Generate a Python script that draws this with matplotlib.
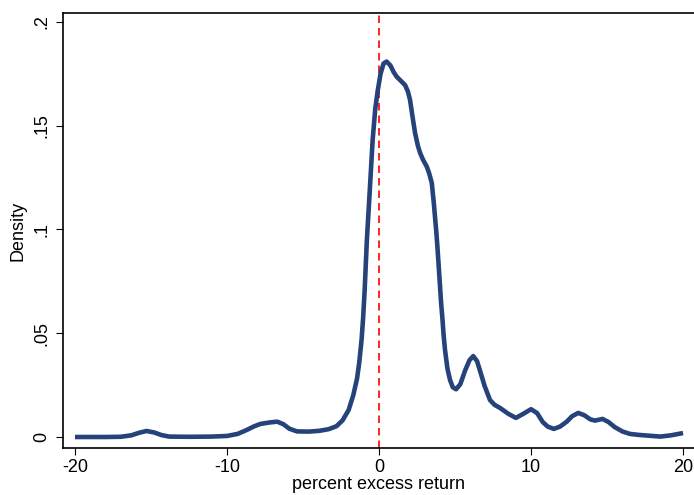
import matplotlib
matplotlib.use("Agg")
import matplotlib.pyplot as plt

plt.rcParams['font.family'] = ['Liberation Sans', 'DejaVu Sans']

x_vals = [-20.0, -18.0, -17.0, -16.3, -15.8, -15.3, -14.8, -14.3, -13.8, -12.5,
          -11.0, -10.0, -9.3, -8.7, -8.2, -7.8, -7.2, -6.7, -6.3, -5.9,
          -5.4, -4.6, -3.9, -3.3, -2.8, -2.4, -2.0, -1.7, -1.45, -1.3, -1.15,
          -1.05, -0.95, -0.8, -0.6, -0.42, -0.25, -0.08, 0.1, 0.3, 0.5, 0.75,
          0.95, 1.16, 1.45, 1.71, 1.9, 2.04, 2.2, 2.37, 2.55, 2.7,
          2.9, 3.14, 3.3, 3.47, 3.6, 3.68, 3.76, 3.84, 3.92, 4.0, 4.08, 4.17, 4.25, 4.34,
          4.5, 4.67, 4.85, 5.07, 5.35, 5.66, 5.95, 6.2, 6.45, 6.64,
          6.95, 7.3, 7.6, 7.96, 8.5, 9.0, 9.5, 10.0, 10.4, 10.77,
          11.1, 11.5, 11.9, 12.35, 12.7, 13.1, 13.5, 13.9, 14.2, 14.7,
          15.1, 15.5, 16.0, 16.5, 17.1, 17.8, 18.5, 19.2, 20.0]
density = [0.0000, 0.0000, 0.0001, 0.0008, 0.0020, 0.0029, 0.0022, 0.0009, 0.0002, 0.0001,
           0.0002, 0.0005, 0.0015, 0.0034, 0.0052, 0.0063, 0.0070, 0.0074, 0.0062, 0.0040,
           0.0027, 0.0026, 0.0030, 0.0038, 0.0052, 0.0080, 0.0130, 0.0200, 0.0280, 0.0360, 0.0467,
           0.0570, 0.0700, 0.0949, 0.1200, 0.1431, 0.1580, 0.1672, 0.1750, 0.1800, 0.1809, 0.1790,
           0.1760, 0.1736, 0.1715, 0.1696, 0.1665, 0.1624, 0.1545, 0.1465, 0.1405, 0.1369,
           0.1335, 0.1303, 0.1270, 0.1224, 0.1130, 0.1062, 0.0995, 0.0917, 0.0830, 0.0740, 0.0650, 0.0570, 0.0490, 0.0420,
           0.0330, 0.0275, 0.0240, 0.0230, 0.0255, 0.0320, 0.0370, 0.0390, 0.0365, 0.0320,
           0.0245, 0.0178, 0.0155, 0.0140, 0.0112, 0.0092, 0.0112, 0.0134, 0.0115, 0.0072,
           0.0050, 0.0039, 0.0050, 0.0074, 0.0100, 0.0116, 0.0105, 0.0085, 0.0079, 0.0087,
           0.0072, 0.0048, 0.0027, 0.0015, 0.0010, 0.0006, 0.0002, 0.0008, 0.0019]

x_ticks = [-20, -10, 0, 10, 20]
x_ticklabels = ['-20', '-10', '0', '10', '20']
y_ticks = [0, 0.05, 0.1, 0.15, 0.2]
y_ticklabels = ['0', '.05', '.1', '.15', '.2']

fig = plt.figure(figsize=(6.94, 4.95), dpi=100)
ax = fig.add_axes([63/694, 1 - 448/495, 1 - 63/694, (448 - 13)/495])

ax.plot(x_vals, density, color='#26427a', lw=3.3, solid_capstyle='butt', solid_joinstyle='round', zorder=3)
ax.axvline(0, color='#ff0000', lw=1.2, dashes=(4.5, 3), zorder=2)

ax.set_xlim(-20.79, 20.72)
ax.set_ylim(-0.0053, 0.2043)

ax.set_xticks(x_ticks)
ax.set_xticklabels(x_ticklabels)
ax.set_yticks(y_ticks)
ax.set_yticklabels(y_ticklabels, rotation=90, va='center')

ax.tick_params(axis='both', direction='out', length=5, width=0.8, labelsize=13, color='black')
ax.tick_params(axis='x', pad=3)
ax.tick_params(axis='y', pad=4)

ax.spines['right'].set_visible(False)
for s in ['left', 'bottom', 'top']:
    ax.spines[s].set_linewidth(1.2)

ax.set_xlabel('percent excess return', fontsize=13, labelpad=0)
ax.set_ylabel('Density', fontsize=13, labelpad=5)

fig.savefig('out.png', dpi=100)
